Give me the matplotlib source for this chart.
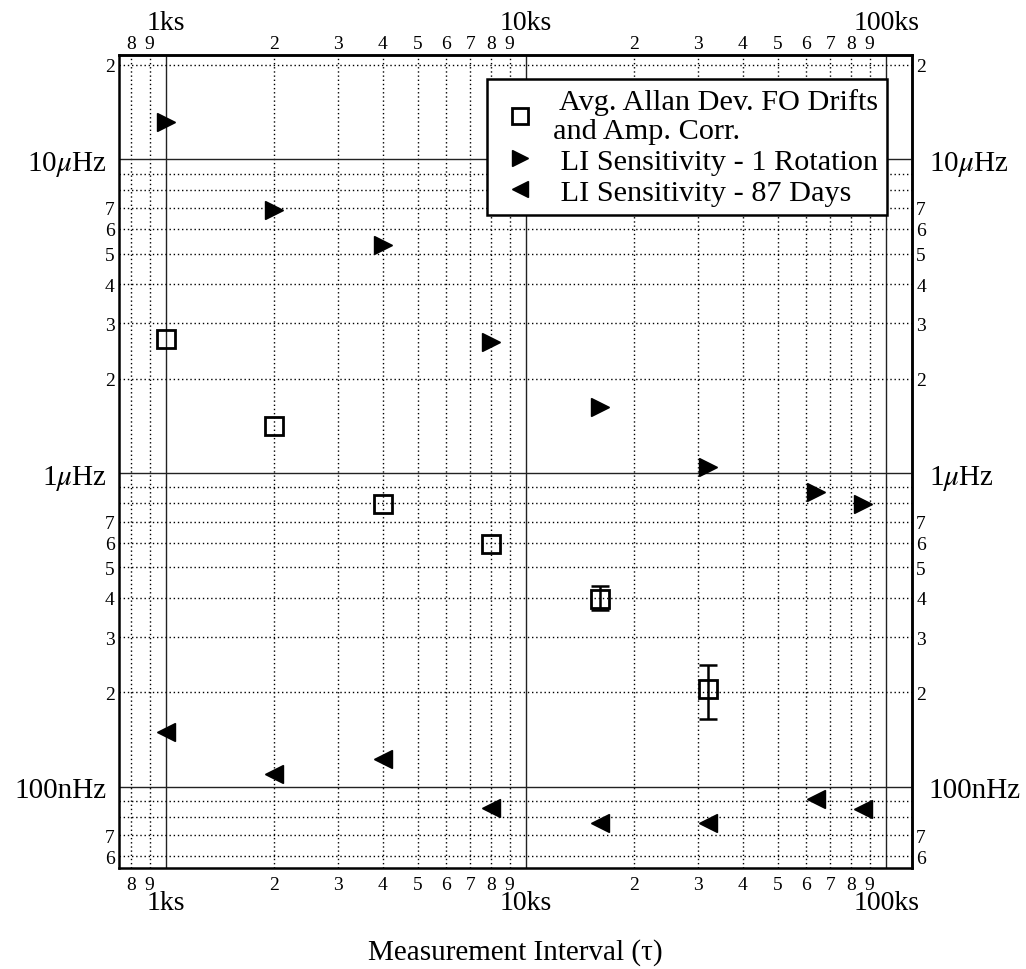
import numpy as np
import matplotlib.pyplot as plt
from matplotlib.ticker import FixedLocator, LogLocator, FuncFormatter

# 字体：Times 风格的衬线字体，希腊字母用 stix
plt.rcParams['font.family'] = ['Liberation Serif', 'DejaVu Serif']
plt.rcParams['mathtext.fontset'] = 'stix'

# 测量间隔 (s)
tau = [1000, 2000, 4000, 8000, 16000, 32000, 64000, 86400]

# 平均 Allan 偏差（FO 漂移及幅度修正）及误差范围
allan = [2.67e-6, 1.41e-6, 7.96e-7, 5.95e-7, 3.98e-7, 2.05e-7]
allan_lo = [2.67e-6, 1.41e-6, 7.96e-7, 5.95e-7, 3.65e-7, 1.64e-7]
allan_hi = [2.67e-6, 1.41e-6, 7.96e-7, 5.95e-7, 4.35e-7, 2.44e-7]

# LI 灵敏度：1 转 / 87 天
rot1 = [1.316e-5, 6.89e-6, 5.32e-6, 2.62e-6, 1.626e-6, 1.049e-6, 8.68e-7, 7.95e-7]
days87 = [1.494e-7, 1.098e-7, 1.225e-7, 8.55e-8, 7.64e-8, 7.66e-8, 9.16e-8, 8.46e-8]

# 坐标轴刻度
x_major = [1e3, 1e4, 1e5]
x_major_labels = ['1ks', '10ks', '100ks']
y_major = [1e-7, 1e-6, 1e-5]
y_major_labels = ['100nHz', r'1$\mu$Hz', r'10$\mu$Hz']
y_minor_shown = [2, 3, 4, 5, 6, 7]

legend_labels = [' Avg. Allan Dev. FO Drifts\nand Amp. Corr.',
                 ' LI Sensitivity - 1 Rotation',
                 ' LI Sensitivity - 87 Days']


def mantissa(v):
    return int(round(v / 10 ** np.floor(np.log10(v))))


x_fmt_major = FuncFormatter(lambda v, p: dict(zip(x_major, x_major_labels)).get(v, ''))
x_fmt_minor = FuncFormatter(lambda v, p: str(mantissa(v)))
y_fmt_major = FuncFormatter(lambda v, p: dict(zip(y_major, y_major_labels)).get(v, ''))
y_fmt_minor = FuncFormatter(lambda v, p: str(mantissa(v)) if mantissa(v) in y_minor_shown else '')

fig = plt.figure(figsize=(10.26, 9.70), dpi=100)
ax = fig.add_axes([0.116, 0.1046, 0.7729, 0.8376])
ax.set_xscale('log')
ax.set_yscale('log')
ax.set_xlim(740, 118000)
ax.set_ylim(5.525e-8, 2.15e-5)

# 网格：主刻度实线，次刻度点线
ax.set_axisbelow(True)
ax.grid(which='major', color='#222222', lw=1.0, ls='-')
ax.grid(which='minor', color='black', lw=1.0, ls=(0, (1, 2)))

# 数据点
ax.plot(tau[:len(allan)], allan, ls='none', marker='s', ms=13, mfc='none',
        mec='black', mew=2.0, label=legend_labels[0], zorder=3)
ax.plot(tau, rot1, ls='none', marker='>', ms=13, color='black',
        label=legend_labels[1], zorder=3)
ax.plot(tau, days87, ls='none', marker='<', ms=13, color='black',
        label=legend_labels[2], zorder=3)

# 误差棒
a = np.array(allan)
lo = np.array(allan_lo)
hi = np.array(allan_hi)
m = hi > lo
ax.errorbar(np.array(tau[:len(allan)])[m], a[m], yerr=[a[m] - lo[m], hi[m] - a[m]],
            fmt='none', ecolor='black', elinewidth=1.8, capsize=6.5, capthick=1.8, zorder=3)

# 底部 / 左侧刻度
for axis, fmaj, fmin in [(ax.xaxis, x_fmt_major, x_fmt_minor),
                         (ax.yaxis, y_fmt_major, y_fmt_minor)]:
    axis.set_major_locator(FixedLocator(x_major if axis is ax.xaxis else y_major))
    axis.set_minor_locator(LogLocator(base=10, subs=np.arange(2, 10), numticks=20))
    axis.set_major_formatter(fmaj)
    axis.set_minor_formatter(fmin)

ax.tick_params(axis='x', which='major', length=0, pad=16, labelsize=20)
ax.tick_params(axis='x', which='minor', length=0, pad=5.8, labelsize=14)
ax.tick_params(axis='y', which='major', length=0, pad=9, labelsize=21)
ax.tick_params(axis='y', which='minor', length=0, pad=3, labelsize=14)

# 顶部 / 右侧刻度
secx = ax.secondary_xaxis('top')
secx.xaxis.set_major_locator(FixedLocator(x_major))
secx.xaxis.set_minor_locator(LogLocator(base=10, subs=np.arange(2, 10), numticks=20))
secx.xaxis.set_major_formatter(x_fmt_major)
secx.xaxis.set_minor_formatter(x_fmt_minor)
secx.tick_params(which='major', length=0, pad=14.4, labelsize=20)
secx.tick_params(which='minor', length=0, pad=2.5, labelsize=14)

secy = ax.secondary_yaxis('right')
secy.yaxis.set_major_locator(FixedLocator(y_major))
secy.yaxis.set_minor_locator(LogLocator(base=10, subs=np.arange(2, 10), numticks=20))
secy.yaxis.set_major_formatter(y_fmt_major)
secy.yaxis.set_minor_formatter(y_fmt_minor)
secy.tick_params(which='major', length=0, pad=12, labelsize=21)
secy.tick_params(which='minor', length=0, pad=3, labelsize=14)

for s in ax.spines.values():
    s.set_linewidth(1.8)
secx.spines['top'].set_linewidth(1.8)
secy.spines['right'].set_linewidth(1.8)

ax.set_xlabel('Measurement Interval (τ)', fontsize=21, labelpad=17)

leg = ax.legend(loc='upper right', bbox_to_anchor=(0.9685, 0.9705), fontsize=21.8,
                fancybox=False, edgecolor='black', framealpha=1, borderpad=0.3,
                handlelength=1.6, handletextpad=0.27, labelspacing=0.12,
                borderaxespad=0, numpoints=1, markerscale=0.9)
leg.get_frame().set_linewidth(1.8)
for t in leg.get_texts():
    t.set_linespacing(1.15)

fig.savefig('out.png', dpi=100)
